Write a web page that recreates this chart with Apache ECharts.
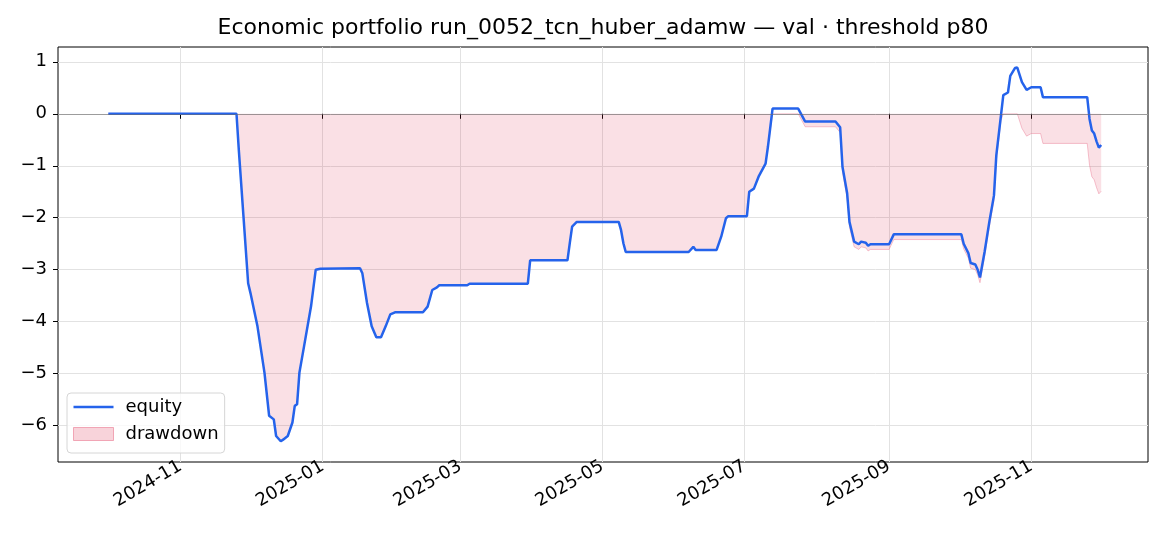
<!DOCTYPE html>
<html>
<head>
<meta charset="utf-8">
<script src="https://cdn.jsdelivr.net/npm/echarts@6.0.0/dist/echarts.min.js"></script>
<style>
html,body{margin:0;padding:0;background:#fff;}
#chart{width:1170px;height:546px;}
</style>
</head>
<body>
<div id="chart"></div>
<script>
const titleText = 'Economic portfolio run_0052_tcn_huber_adamw — val · threshold p80';
const xTickLabels = ['2024-11-01','2025-01-01','2025-03-01','2025-05-01','2025-07-01','2025-09-01','2025-11-01'];
const yTickValues = [-6,-5,-4,-3,-2,-1,0,1];
const dates = [
'2024-10-01','2024-11-25','2024-11-26','2024-11-28','2024-11-30','2024-12-01','2024-12-04','2024-12-07','2024-12-09','2024-12-11',
'2024-12-12','2024-12-14','2024-12-15','2024-12-17','2024-12-19','2024-12-20','2024-12-21','2024-12-22','2024-12-24','2024-12-27',
'2024-12-29','2024-12-31','2025-01-17','2025-01-18','2025-01-20','2025-01-22','2025-01-24','2025-01-26','2025-01-28','2025-01-30',
'2025-02-01','2025-02-13','2025-02-15','2025-02-17','2025-02-19','2025-02-20','2025-03-04','2025-03-05','2025-03-30','2025-03-31',
'2025-04-16','2025-04-17','2025-04-18','2025-04-20','2025-05-08','2025-05-09','2025-05-10','2025-05-11','2025-06-07','2025-06-09',
'2025-06-10','2025-06-19','2025-06-21','2025-06-23','2025-06-24','2025-07-02','2025-07-03','2025-07-05','2025-07-07','2025-07-10',
'2025-07-11','2025-07-13','2025-07-24','2025-07-27','2025-08-09','2025-08-11','2025-08-12','2025-08-14','2025-08-15','2025-08-17',
'2025-08-19','2025-08-20','2025-08-22','2025-08-23','2025-08-24','2025-09-01','2025-09-03','2025-10-02','2025-10-03','2025-10-05',
'2025-10-06','2025-10-08','2025-10-09','2025-10-10','2025-10-12','2025-10-14','2025-10-16','2025-10-17','2025-10-19','2025-10-20',
'2025-10-22','2025-10-23','2025-10-25','2025-10-26','2025-10-28','2025-10-30','2025-11-01','2025-11-05','2025-11-06','2025-11-25',
'2025-11-26','2025-11-27','2025-11-28','2025-11-29','2025-11-30','2025-12-01'
];
const equity = [
0,0,-0.70,-1.98,-3.26,-3.45,-4.09,-4.98,-5.81,-5.88,
-6.20,-6.30,-6.27,-6.20,-5.94,-5.62,-5.59,-4.98,-4.47,-3.70,
-3.00,-2.98,-2.97,-3.07,-3.64,-4.09,-4.30,-4.30,-4.09,-3.86,
-3.82,-3.82,-3.71,-3.39,-3.34,-3.30,-3.30,-3.27,-3.27,-2.82,
-2.82,-2.49,-2.17,-2.08,-2.08,-2.24,-2.49,-2.66,-2.66,-2.56,
-2.62,-2.62,-2.36,-2.01,-1.97,-1.97,-1.50,-1.44,-1.21,-0.96,
-0.64,0.10,0.10,-0.15,-0.15,-0.26,-1.02,-1.53,-2.08,-2.46,
-2.51,-2.46,-2.48,-2.54,-2.51,-2.51,-2.32,-2.32,-2.50,-2.68,
-2.87,-2.90,-3.00,-3.15,-2.65,-2.08,-1.57,-0.80,-0.03,0.36,
0.41,0.73,0.88,0.89,0.61,0.46,0.51,0.51,0.32,0.32,
-0.10,-0.32,-0.38,-0.53,-0.65,-0.60
];
const drawdown = [
0,0,-0.70,-1.98,-3.26,-3.45,-4.09,-4.98,-5.81,-5.88,
-6.20,-6.30,-6.27,-6.20,-5.94,-5.62,-5.59,-4.98,-4.47,-3.70,
-3.00,-2.98,-2.97,-3.07,-3.64,-4.09,-4.30,-4.30,-4.09,-3.86,
-3.82,-3.82,-3.71,-3.39,-3.34,-3.30,-3.30,-3.27,-3.27,-2.82,
-2.82,-2.49,-2.17,-2.08,-2.08,-2.24,-2.49,-2.66,-2.66,-2.56,
-2.62,-2.62,-2.36,-2.01,-1.97,-1.97,-1.50,-1.44,-1.21,-0.96,
-0.64,0,0,-0.25,-0.25,-0.36,-1.12,-1.63,-2.18,-2.56,
-2.61,-2.56,-2.58,-2.64,-2.61,-2.61,-2.42,-2.42,-2.60,-2.78,
-2.97,-3.00,-3.10,-3.25,-2.75,-2.18,-1.67,-0.90,-0.13,0,
0,0,0,0,-0.28,-0.43,-0.38,-0.38,-0.57,-0.57,
-0.99,-1.21,-1.27,-1.42,-1.54,-1.49
];

const FONT = 'DejaVu Sans';
function ts(s){ const p = s.split('-').map(Number); return Date.UTC(p[0], p[1]-1, p[2]); }
const xMin = Date.UTC(2024,8,9,10);
const xMax = Date.UTC(2025,11,21,2);
const xTicks = xTickLabels.map(ts);
const eqData = dates.map((d,i)=>[ts(d), equity[i]]);
const ddData = dates.map((d,i)=>[ts(d), drawdown[i]]);

const chart = echarts.init(document.getElementById('chart'), null, {renderer:'canvas'});
chart.setOption({
  animation:false,
  backgroundColor:'#fff',
  graphic:[{
    type:'text', x:603, y:28, z:10,
    style:{text:titleText, align:'center', verticalAlign:'middle', font:'22px "DejaVu Sans"', fill:'#000'}
  }],
  grid:{left:58, right:22, top:47, bottom:84, show:true, borderColor:'#000', borderWidth:1, backgroundColor:'transparent'},
  legend:{
    left:67, top:393, orient:'vertical',
    padding:[5,6,10,6], itemGap:9, itemWidth:40, itemHeight:13,
    backgroundColor:'rgba(255,255,255,0.8)', borderColor:'#d6d6d6', borderWidth:1, borderRadius:4,
    textStyle:{fontFamily:FONT, fontSize:18, color:'#000', padding:[0,0,0,7]},
    data:[
      {name:'equity', icon:'path://M0,0 L40,0 L40,2.6 L0,2.6 Z', itemStyle:{color:'#2563eb'}},
      {name:'drawdown', icon:'rect', itemStyle:{color:'rgba(220,20,60,0.19)', borderColor:'rgba(235,120,145,0.6)', borderWidth:1}}
    ]
  },
  xAxis:{
    type:'value', min:xMin, max:xMax,
    axisLine:{show:false},
    axisTick:{show:true, inside:false, length:5, lineStyle:{color:'#000', width:1}, customValues:xTicks},
    axisLabel:{
      customValues:xTicks, rotate:30, margin:3, color:'#000', fontFamily:FONT, fontSize:18,
      formatter:function(v){ const d=new Date(v); return d.getUTCFullYear()+'-'+String(d.getUTCMonth()+1).padStart(2,'0'); }
    },
    splitLine:{show:true, lineStyle:{color:'#e2e2e2', width:1}}
  },
  yAxis:{
    type:'value', min:-6.70, max:1.285,
    axisLine:{show:false},
    axisTick:{show:true, inside:false, length:5, lineStyle:{color:'#000', width:1}, customValues:yTickValues},
    axisLabel:{
      customValues:yTickValues, margin:11, color:'#000', fontFamily:FONT, fontSize:18,
      formatter:function(v){ return String(Math.round(v)).replace('-','\u2212'); }
    },
    splitLine:{show:true, lineStyle:{color:'#e2e2e2', width:1}}
  },
  series:[
    {
      name:'drawdown', type:'line', data:ddData, symbol:'none', z:2,
      lineStyle:{color:'rgba(230,90,120,0.35)', width:1},
      itemStyle:{color:'rgba(220,20,60,0.19)'},
      areaStyle:{color:'rgba(220,20,60,0.19)', origin:'auto'},
      markLine:{silent:true, symbol:'none', label:{show:false},
        lineStyle:{color:'rgba(110,110,110,0.6)', width:1, type:'solid'},
        data:[{yAxis:0}]}
    },
    {
      name:'equity', type:'line', data:eqData, symbol:'none', z:3,
      lineStyle:{color:'#2563eb', width:2.5},
      itemStyle:{color:'#2563eb'}
    }
  ]
});
</script>
</body>
</html>
